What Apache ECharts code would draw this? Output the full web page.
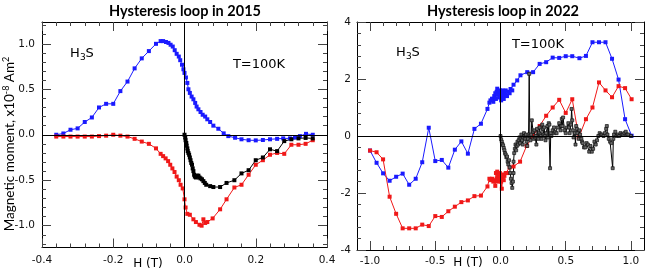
<!DOCTYPE html>
<html>
<head>
<meta charset="utf-8">
<script src="https://cdn.jsdelivr.net/npm/echarts@6/dist/echarts.min.js"></script>
<style>html,body{margin:0;padding:0;background:#fff;}#c{width:654px;height:275px;}</style>
</head>
<body>
<div id="c"></div>
<script>
// ---------- DATA (H in tesla, moment in 1e-8 Am^2) ----------
const leftBlue = [
[-0.36,0.0],[-0.34,0.014],[-0.32,0.055],[-0.30,0.07],[-0.28,0.14],[-0.26,0.19],[-0.24,0.30],[-0.22,0.34],[-0.20,0.34],[-0.18,0.48],[-0.16,0.585],[-0.14,0.73],[-0.12,0.84],[-0.10,0.92],[-0.08,1.0],[-0.067,1.03],[-0.06,1.03],[-0.052,1.02],[-0.045,1.01],[-0.039,0.99],[-0.033,0.97],[-0.0275,0.93],[-0.022,0.89],[-0.016,0.86],[-0.012,0.82],[-0.007,0.77],[-0.003,0.72],[0.0,0.68],[0.004,0.63],[0.008,0.57],[0.011,0.5],[0.015,0.46],[0.02,0.42],[0.025,0.39],[0.03,0.35],[0.034,0.31],[0.039,0.28],[0.045,0.25],[0.051,0.22],[0.058,0.20],[0.064,0.17],[0.072,0.14],[0.081,0.10],[0.095,0.066],[0.11,0.015],[0.123,-0.015],[0.142,-0.033],[0.16,-0.05],[0.18,-0.06],[0.20,-0.062],[0.22,-0.058],[0.24,-0.05],[0.26,-0.045],[0.277,-0.04],[0.296,-0.04],[0.31,-0.03],[0.324,-0.015],[0.341,0.01],[0.36,0.0]
];
const leftRed = [
[-0.36,-0.02],[-0.34,-0.02],[-0.32,-0.02],[-0.30,-0.02],[-0.28,-0.02],[-0.26,-0.02],[-0.24,-0.015],[-0.22,-0.01],[-0.20,0.0],[-0.18,-0.01],[-0.16,-0.02],[-0.14,-0.045],[-0.12,-0.075],[-0.10,-0.10],[-0.08,-0.15],[-0.067,-0.21],[-0.06,-0.235],[-0.053,-0.26],[-0.046,-0.29],[-0.04,-0.33],[-0.034,-0.37],[-0.028,-0.41],[-0.022,-0.46],[-0.016,-0.50],[-0.011,-0.55],[-0.005,-0.59],[0.0,-0.71],[0.003,-0.80],[0.008,-0.87],[0.015,-0.88],[0.025,-0.93],[0.032,-0.96],[0.042,-0.99],[0.048,-1.0],[0.053,-0.93],[0.058,-0.97],[0.064,-0.96],[0.079,-0.92],[0.10,-0.82],[0.118,-0.71],[0.14,-0.58],[0.16,-0.55],[0.18,-0.44],[0.20,-0.33],[0.22,-0.28],[0.24,-0.22],[0.26,-0.20],[0.28,-0.21],[0.30,-0.11],[0.32,-0.11],[0.34,-0.10],[0.36,-0.06]
];
const leftBlack = [
[0.0,0.0],[0.002,-0.03],[0.003,-0.06],[0.005,-0.09],[0.006,-0.12],[0.008,-0.15],[0.009,-0.18],[0.011,-0.2],[0.013,-0.22],[0.015,-0.25],[0.017,-0.28],[0.019,-0.31],[0.021,-0.33],[0.023,-0.37],[0.025,-0.40],[0.027,-0.44],[0.029,-0.46],[0.032,-0.47],[0.035,-0.45],[0.039,-0.45],[0.042,-0.47],[0.045,-0.48],[0.049,-0.49],[0.053,-0.51],[0.057,-0.53],[0.061,-0.55],[0.072,-0.565],[0.081,-0.575],[0.10,-0.575],[0.118,-0.53],[0.14,-0.50],[0.16,-0.425],[0.18,-0.39],[0.20,-0.28],[0.22,-0.25],[0.24,-0.16],[0.26,-0.18],[0.28,-0.07],[0.30,-0.05],[0.32,-0.04],[0.34,-0.035],[0.36,-0.04]
];
const rightBlue = [
[-1.0,-0.51],[-0.95,-0.94],[-0.90,-1.31],[-0.85,-1.57],[-0.80,-1.43],[-0.75,-1.32],[-0.70,-1.71],[-0.65,-1.50],[-0.60,-0.92],[-0.55,0.29],[-0.50,-0.88],[-0.45,-0.84],[-0.40,-1.11],[-0.35,-0.48],[-0.30,-0.19],[-0.25,-0.62],[-0.20,0.25],[-0.15,0.43],[-0.10,0.95],[-0.085,1.17],[-0.077,1.25],[-0.065,1.31],[-0.055,1.2],[-0.048,1.4],[-0.04,1.5],[-0.035,1.3],[-0.03,1.55],[-0.025,1.66],[-0.02,1.45],[-0.015,1.55],[-0.01,1.35],[-0.005,1.6],[0.0,1.37],[0.005,1.25],[0.01,1.5],[0.015,1.6],[0.02,1.4],[0.025,1.3],[0.03,1.55],[0.035,1.45],[0.04,1.6],[0.05,1.4],[0.06,1.55],[0.07,1.5],[0.077,1.65],[0.09,1.6],[0.10,1.8],[0.128,1.95],[0.153,2.13],[0.205,2.24],[0.25,2.24],[0.30,2.53],[0.35,2.59],[0.40,2.75],[0.45,2.74],[0.50,2.80],[0.55,2.80],[0.605,2.73],[0.655,2.81],[0.705,3.29],[0.755,3.29],[0.805,3.29],[0.855,2.71],[0.905,1.98],[0.955,0.59],[1.005,0.01]
];
const rightRed = [
[-1.0,-0.51],[-0.95,-0.57],[-0.90,-0.82],[-0.85,-2.13],[-0.80,-2.73],[-0.75,-3.24],[-0.70,-3.24],[-0.65,-3.24],[-0.60,-3.11],[-0.55,-3.16],[-0.50,-2.81],[-0.45,-2.84],[-0.40,-2.64],[-0.35,-2.48],[-0.30,-2.32],[-0.25,-2.26],[-0.20,-2.11],[-0.15,-2.09],[-0.10,-1.77],[-0.085,-1.5],[-0.075,-1.55],[-0.065,-1.5],[-0.055,-1.6],[-0.045,-1.55],[-0.04,-1.75],[-0.035,-1.3],[-0.03,-1.5],[-0.025,-1.25],[-0.02,-1.6],[-0.015,-1.4],[-0.01,-1.55],[-0.005,-1.3],[0.0,-1.45],[0.005,-1.6],[0.01,-1.85],[0.015,-1.5],[0.02,-1.35],[0.025,-1.55],[0.03,-1.4],[0.04,-1.3],[0.05,-1.3],[0.07,-1.1],[0.10,-1.07],[0.15,-0.9],[0.20,-0.35],[0.25,0.0],[0.30,0.35],[0.35,0.71],[0.40,1.0],[0.45,1.27],[0.50,0.81],[0.55,1.29],[0.60,-0.05],[0.655,0.59],[0.705,1.0],[0.755,1.88],[0.805,1.6],[0.855,1.36],[0.905,1.75],[0.955,1.68],[1.005,1.29]
];
const rightBlack = [
[0,0],[0.005,-0.12],[0.01,-0.2],[0.015,-0.28],[0.02,-0.33],[0.025,-0.42],[0.03,-0.5],[0.035,-0.6],[0.04,-0.65],[0.045,-0.75],[0.05,-0.72],[0.055,-0.9],[0.06,-1.0],[0.065,-0.85],[0.07,-1.1],[0.075,-1.3],[0.08,-1.5],[0.085,-1.65],[0.09,-1.82],[0.095,-1.6],[0.1,-1.3],[0.1,-0.9],[0.105,-0.6],[0.11,-0.45],[0.115,-0.3],[0.12,-0.5],[0.125,-0.35],[0.13,-0.2],[0.135,-0.3],[0.14,-0.15],[0.145,-0.05],[0.15,-0.25],[0.155,-0.1],[0.16,0.05],[0.165,-0.15],[0.17,-0.3],[0.175,-0.05],[0.18,0.1],[0.185,0.0],[0.19,-0.1],[0.195,0.05],[0.2,-0.2],[0.205,-0.35],[0.21,-0.1],[0.215,0.05],[0.22,2.18],[0.225,0.0],[0.23,-0.15],[0.235,0.05],[0.24,0.55],[0.25,0.15],[0.255,-0.1],[0.26,0.2],[0.265,-0.05],[0.27,0.0],[0.275,-0.3],[0.28,0.25],[0.29,-0.1],[0.295,0.1],[0.3,0.3],[0.305,0.05],[0.31,0.0],[0.315,-0.1],[0.32,0.4],[0.325,0.25],[0.33,0.05],[0.335,0.3],[0.34,0.0],[0.345,-0.15],[0.35,0.1],[0.36,0.35],[0.365,-0.05],[0.37,0.45],[0.375,0.4],[0.38,-1.13],[0.385,0.1],[0.39,0.0],[0.4,0.2],[0.41,0.3],[0.415,0.1],[0.42,0.15],[0.43,0.1],[0.44,0.3],[0.45,0.45],[0.46,0.2],[0.465,0.35],[0.47,0.6],[0.475,0.35],[0.48,0.65],[0.49,0.2],[0.5,0.1],[0.51,0.3],[0.52,0.45],[0.525,0.3],[0.53,0.1],[0.54,0.4],[0.545,0.95],[0.55,0.55],[0.555,0.2],[0.56,-0.05],[0.57,0.1],[0.575,-0.3],[0.58,0.35],[0.585,0.25],[0.59,0.1],[0.6,-0.1],[0.605,0.2],[0.61,0.05],[0.62,-0.1],[0.625,-0.2],[0.63,-0.25],[0.64,-0.4],[0.65,-0.4],[0.66,-0.25],[0.67,-0.3],[0.68,-0.55],[0.69,-0.35],[0.7,-0.55],[0.71,-0.45],[0.72,-0.2],[0.73,-0.3],[0.74,-0.15],[0.75,0.0],[0.76,0.1],[0.77,0.05],[0.78,0.05],[0.79,0.0],[0.8,0.1],[0.81,0.25],[0.815,0.35],[0.82,0.05],[0.83,-0.1],[0.84,-0.2],[0.85,-0.25],[0.86,-1.13],[0.865,-0.1],[0.87,0.05],[0.88,0.15],[0.89,0.0],[0.9,0.05],[0.91,0.0],[0.92,0.1],[0.93,0.05],[0.94,0.05],[0.95,0.1],[0.96,0.15],[0.97,0.05],[0.98,0.05],[1.0,0.0]
];

// tick labels / positions
const leftXMajor = [-0.4,-0.2,0,0.2,0.4];
const leftYMajor = [-1.0,-0.5,0,0.5,1.0];
const rightXMajor = [-1.0,-0.5,0,0.5,1.0];
const rightYMajor = [-4,-2,0,2,4];
const titles = ['Hysteresis loop in 2015','Hysteresis loop in 2022'];

function steps(a, b, s){ const out=[]; const n=Math.round((b-a)/s); for(let i=0;i<=n;i++) out.push(+(a+i*s).toFixed(4)); return out; }
const leftXMinor = steps(-0.4,0.4,0.04);
const leftYMinor = steps(-1.2,1.2,0.1);
const rightXMinor = steps(-1.0,1.0,0.1);
const rightYMinor = steps(-4,4,0.4);

const LBL = {fontFamily:'DejaVu Sans', fontSize:10.5, color:'#111'};
const TICKC = '#444';

function makeAxes(kind, grid, min, max, majors, minors, fmt, margin){
  const isX = kind === 'x';
  const pos = isX ? ['bottom','top'] : ['left','right'];
  const out = [];
  pos.forEach((p, i) => {
    out.push({type:'value', gridIndex:grid, min, max, position:p,
      axisLine:{show:true, onZero:false, lineStyle:{color:'#000', width:1}},
      axisTick:{show:true, inside:true, length:9, customValues:majors, lineStyle:{color:TICKC}},
      axisLabel:{show:i===0, customValues:majors, formatter:fmt, margin:margin, ...LBL},
      splitLine:{show:false}});
  });
  pos.forEach((p) => {
    out.push({type:'value', gridIndex:grid, min, max, position:p,
      axisLine:{show:false, onZero:false},
      axisTick:{show:true, inside:true, length:4, customValues:minors, lineStyle:{color:TICKC}},
      axisLabel:{show:false},
      splitLine:{show:false}});
  });
  return out;
}
const f1 = v => (Math.abs(v) < 1e-9 ? 0 : v).toFixed(1);
const f0 = v => String(Math.round(v));

const xAxes = [
  ...makeAxes('x',0,-0.4,0.4,leftXMajor,leftXMinor,f1,7),
  ...makeAxes('x',1,-1.1,1.1,rightXMajor,rightXMinor,f1,6)
];
const yAxes = [
  ...makeAxes('y',0,-1.24,1.24,leftYMajor,leftYMinor,f1,7),
  ...makeAxes('y',1,-4,4,rightYMajor,rightYMinor,f0,6)
];

const zeroLine = {silent:true, symbol:'none', label:{show:false},
  lineStyle:{color:'#000', width:1, type:'solid'}, data:[{xAxis:0},{yAxis:0}], animation:false};

function ser(data, color, xi, yi, opts){
  return Object.assign({type:'line', data, xAxisIndex:xi, yAxisIndex:yi, symbol:'rect', symbolSize:4,
    showSymbol:true, lineStyle:{color, width:1}, itemStyle:{color}, animation:false, z:3}, opts||{});
}
const BLUE='#1a1aff', RED='#f01818';

const chart = echarts.init(document.getElementById('c'), null, {renderer:'canvas'});
chart.setOption({
  animation:false,
  grid:[
    {left:42, top:22, width:285, height:225.5, containLabel:false, outerBoundsMode:'none'},
    {left:357, top:22, width:287, height:228, containLabel:false, outerBoundsMode:'none'}
  ],
  xAxis: xAxes,
  yAxis: yAxes,
  series:[
    ser(leftBlue, BLUE, 0, 0, {markLine: zeroLine}),
    ser(leftRed, RED, 0, 0),
    ser(leftBlack, '#000', 0, 0),
    ser(rightBlue, BLUE, 4, 4, {markLine: zeroLine}),
    ser(rightRed, RED, 4, 4),
    ser(rightBlack, '#000', 4, 4, {itemStyle:{color:'#666', borderColor:'#111', borderWidth:0.7}, symbolSize:3})
  ],
  graphic:[
    {type:'text', x:185, y:11, style:{text:titles[0], fontFamily:'Lato', fontWeight:'bold', fontSize:14.5, fill:'#000', align:'center', verticalAlign:'middle'}},
    {type:'text', x:503, y:11, style:{text:titles[1], fontFamily:'Lato', fontWeight:'bold', fontSize:14.5, fill:'#000', align:'center', verticalAlign:'middle'}},
    {type:'text', x:10, y:144, rotation:Math.PI/2, style:{text:'{n|Magnetic moment, x10}{s|-8}{n| Am}{s|2}', align:'center', verticalAlign:'middle', fill:'#000',
      rich:{n:{fontFamily:'Lato', fontSize:13.5, fill:'#000'}, s:{fontFamily:'Lato', fontSize:9, fill:'#000', padding:[0,0,7,0]}}}},
    {type:'text', x:82, y:54, style:{text:'{n|H}{s|3}{n|S}', align:'center', verticalAlign:'middle',
      rich:{n:{fontFamily:'DejaVu Sans', fontSize:13, fill:'#000'}, s:{fontFamily:'DejaVu Sans', fontSize:9, fill:'#000', padding:[7,0,0,0]}}}},
    {type:'text', x:259, y:65, style:{text:'T=100K', fontFamily:'DejaVu Sans', fontSize:13, fill:'#000', align:'center', verticalAlign:'middle'}},
    {type:'text', x:408, y:53, style:{text:'{n|H}{s|3}{n|S}', align:'center', verticalAlign:'middle',
      rich:{n:{fontFamily:'DejaVu Sans', fontSize:13, fill:'#000'}, s:{fontFamily:'DejaVu Sans', fontSize:9, fill:'#000', padding:[7,0,0,0]}}}},
    {type:'text', x:538, y:45, style:{text:'T=100K', fontFamily:'DejaVu Sans', fontSize:13, fill:'#000', align:'center', verticalAlign:'middle'}},
    {type:'text', x:148, y:264, style:{text:'H (T)', fontFamily:'DejaVu Sans', fontSize:12, fill:'#000', align:'center', verticalAlign:'middle'}},
    {type:'text', x:468, y:263, style:{text:'H (T)', fontFamily:'DejaVu Sans', fontSize:12, fill:'#000', align:'center', verticalAlign:'middle'}}
  ]
});
</script>
</body>
</html>
